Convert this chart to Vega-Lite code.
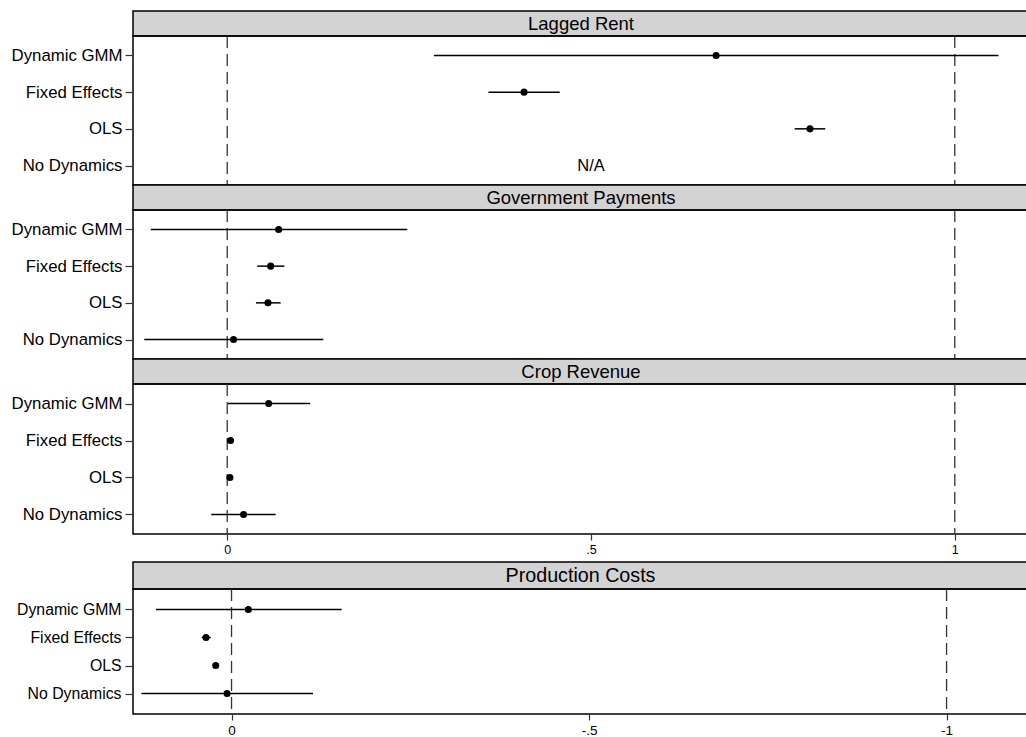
{
  "$schema": "https://vega.github.io/schema/vega-lite/v6.json",
  "padding": {"left": 10, "top": 10, "right": 0, "bottom": 0},
  "background": "white",
  "config": {
    "font": "Liberation Sans",
    "view": {"stroke": "black", "strokeWidth": 1.5},
    "concat": {"spacing": 0}
  },
  "datasets": {
    "est": [
      {"panel": "Lagged Rent", "model": "Dynamic GMM", "b": 0.672, "lo": 0.284, "hi": 1.06},
      {"panel": "Lagged Rent", "model": "Fixed Effects", "b": 0.408, "lo": 0.359, "hi": 0.457},
      {"panel": "Lagged Rent", "model": "OLS", "b": 0.801, "lo": 0.78, "hi": 0.822},
      {"panel": "Government Payments", "model": "Dynamic GMM", "b": 0.0707, "lo": -0.105, "hi": 0.2475},
      {"panel": "Government Payments", "model": "Fixed Effects", "b": 0.0597, "lo": 0.0413, "hi": 0.0785},
      {"panel": "Government Payments", "model": "OLS", "b": 0.056, "lo": 0.0395, "hi": 0.0734},
      {"panel": "Government Payments", "model": "No Dynamics", "b": 0.0087, "lo": -0.114, "hi": 0.132},
      {"panel": "Crop Revenue", "model": "Dynamic GMM", "b": 0.057, "lo": 0.001, "hi": 0.114},
      {"panel": "Crop Revenue", "model": "Fixed Effects", "b": 0.0046, "lo": 0.002, "hi": 0.007},
      {"panel": "Crop Revenue", "model": "OLS", "b": 0.0037, "lo": 0.0015, "hi": 0.006},
      {"panel": "Crop Revenue", "model": "No Dynamics", "b": 0.0225, "lo": -0.022, "hi": 0.0666},
      {"panel": "Production Costs", "model": "Dynamic GMM", "b": -0.0235, "lo": 0.1056, "hi": -0.154},
      {"panel": "Production Costs", "model": "Fixed Effects", "b": 0.0357, "lo": 0.0417, "hi": 0.029},
      {"panel": "Production Costs", "model": "OLS", "b": 0.0221, "lo": 0.025, "hi": 0.019},
      {"panel": "Production Costs", "model": "No Dynamics", "b": 0.0063, "lo": 0.126, "hi": -0.114}
    ],
    "notes": [
      {"panel": "Lagged Rent", "model": "No Dynamics", "note": "N/A", "at": 0.5}
    ],
    "refsTop": [{"ref": 0}, {"ref": 1}],
    "refsBottom": [{"ref": 0}, {"ref": -1}]
  },
  "vconcat": [
    {
      "spacing": 0,
      "bounds": "flush",
      "vconcat": [
        {
          "width": 896, "height": 25,
          "data": {"values": [{"t": "Lagged Rent"}]},
          "mark": {"type": "text", "fontSize": 18.5, "color": "black", "baseline": "middle"},
          "encoding": {"text": {"field": "t"}},
          "view": {"fill": "#d3d3d3", "stroke": "black", "strokeWidth": 1.5}
        },
        {
          "width": 896, "height": 149,
          "layer": [
            {
              "data": {"name": "refsTop"},
              "mark": {"type": "rule", "color": "#333333", "strokeDash": [12, 6], "strokeWidth": 1.3},
              "encoding": {"x": {"field": "ref", "type": "quantitative", "scale": {"domain": [-0.1295, 1.102], "nice": false, "zero": false}, "axis": null}}
            },
            {
              "data": {"name": "est"},
              "transform": [{"filter": "datum.panel == 'Lagged Rent'"}],
              "mark": {"type": "rule", "color": "black", "strokeWidth": 1.5},
              "encoding": {
                "y": {"field": "model", "type": "nominal", "sort": ["Dynamic GMM", "Fixed Effects", "OLS", "No Dynamics"], "scale": {"domain": ["Dynamic GMM", "Fixed Effects", "OLS", "No Dynamics"], "type": "point", "padding": 0.53}, "axis": {"title": null, "labelFontSize": 16.8, "labelColor": "black", "tickSize": 8, "tickColor": "#333333", "tickWidth": 1.2, "labelPadding": 3, "domain": false, "grid": false}},
                "x": {"field": "lo", "type": "quantitative"},
                "x2": {"field": "hi"}
              }
            },
            {
              "data": {"name": "est"},
              "transform": [{"filter": "datum.panel == 'Lagged Rent'"}],
              "mark": {"type": "circle", "color": "black", "size": 50, "opacity": 1},
              "encoding": {
                "y": {"field": "model", "type": "nominal"},
                "x": {"field": "b", "type": "quantitative"}
              }
            },
            {
              "data": {"name": "notes"},
              "mark": {"type": "text", "fontSize": 16.5, "color": "black", "baseline": "middle"},
              "encoding": {
                "y": {"field": "model", "type": "nominal"},
                "x": {"field": "at", "type": "quantitative"},
                "text": {"field": "note"}
              }
            }
          ]
        },
        {
          "width": 896, "height": 25,
          "data": {"values": [{"t": "Government Payments"}]},
          "mark": {"type": "text", "fontSize": 18.5, "color": "black", "baseline": "middle"},
          "encoding": {"text": {"field": "t"}},
          "view": {"fill": "#d3d3d3", "stroke": "black", "strokeWidth": 1.5}
        },
        {
          "width": 896, "height": 149,
          "layer": [
            {
              "data": {"name": "refsTop"},
              "mark": {"type": "rule", "color": "#333333", "strokeDash": [12, 6], "strokeWidth": 1.3},
              "encoding": {"x": {"field": "ref", "type": "quantitative", "scale": {"domain": [-0.1295, 1.102], "nice": false, "zero": false}, "axis": null}}
            },
            {
              "data": {"name": "est"},
              "transform": [{"filter": "datum.panel == 'Government Payments'"}],
              "mark": {"type": "rule", "color": "black", "strokeWidth": 1.5},
              "encoding": {
                "y": {"field": "model", "type": "nominal", "scale": {"domain": ["Dynamic GMM", "Fixed Effects", "OLS", "No Dynamics"], "type": "point", "padding": 0.53}, "axis": {"title": null, "labelFontSize": 16.8, "labelColor": "black", "tickSize": 8, "tickColor": "#333333", "tickWidth": 1.2, "labelPadding": 3, "domain": false, "grid": false}},
                "x": {"field": "lo", "type": "quantitative"},
                "x2": {"field": "hi"}
              }
            },
            {
              "data": {"name": "est"},
              "transform": [{"filter": "datum.panel == 'Government Payments'"}],
              "mark": {"type": "circle", "color": "black", "size": 50, "opacity": 1},
              "encoding": {
                "y": {"field": "model", "type": "nominal"},
                "x": {"field": "b", "type": "quantitative"}
              }
            }
          ]
        },
        {
          "width": 896, "height": 25,
          "data": {"values": [{"t": "Crop Revenue"}]},
          "mark": {"type": "text", "fontSize": 18.5, "color": "black", "baseline": "middle"},
          "encoding": {"text": {"field": "t"}},
          "view": {"fill": "#d3d3d3", "stroke": "black", "strokeWidth": 1.5}
        },
        {
          "width": 896, "height": 150,
          "layer": [
            {
              "data": {"name": "refsTop"},
              "mark": {"type": "rule", "color": "#333333", "strokeDash": [12, 6], "strokeWidth": 1.3},
              "encoding": {"x": {"field": "ref", "type": "quantitative", "scale": {"domain": [-0.1295, 1.102], "nice": false, "zero": false}, "axis": {"title": null, "values": [0, 0.5, 1], "labelExpr": "(datum.value < 0 ? '-' : '') + replace(toString(abs(datum.value)), /^0\\./, '.')", "labelFontSize": 12.5, "labelColor": "black", "tickSize": 6, "tickColor": "#333333", "tickWidth": 1.2, "labelPadding": 3, "domain": false, "grid": false}}}
            },
            {
              "data": {"name": "est"},
              "transform": [{"filter": "datum.panel == 'Crop Revenue'"}],
              "mark": {"type": "rule", "color": "black", "strokeWidth": 1.5},
              "encoding": {
                "y": {"field": "model", "type": "nominal", "scale": {"domain": ["Dynamic GMM", "Fixed Effects", "OLS", "No Dynamics"], "type": "point", "padding": 0.53}, "axis": {"title": null, "labelFontSize": 16.8, "labelColor": "black", "tickSize": 8, "tickColor": "#333333", "tickWidth": 1.2, "labelPadding": 3, "domain": false, "grid": false}},
                "x": {"field": "lo", "type": "quantitative"},
                "x2": {"field": "hi"}
              }
            },
            {
              "data": {"name": "est"},
              "transform": [{"filter": "datum.panel == 'Crop Revenue'"}],
              "mark": {"type": "circle", "color": "black", "size": 50, "opacity": 1},
              "encoding": {
                "y": {"field": "model", "type": "nominal"},
                "x": {"field": "b", "type": "quantitative"}
              }
            }
          ]
        }
      ]
    },
    {
      "spacing": 0,
      "bounds": "flush",
      "vconcat": [
        {
          "width": 895, "height": 27,
          "data": {"values": [{"t": "Production Costs"}]},
          "mark": {"type": "text", "fontSize": 19.7, "color": "black", "baseline": "middle"},
          "encoding": {"text": {"field": "t"}},
          "view": {"fill": "#d3d3d3", "stroke": "black", "strokeWidth": 1.5}
        },
        {
          "width": 895, "height": 125,
          "layer": [
            {
              "data": {"name": "refsBottom"},
              "mark": {"type": "rule", "color": "#333333", "strokeDash": [12, 6], "strokeWidth": 1.3},
              "encoding": {"x": {"field": "ref", "type": "quantitative", "scale": {"domain": [-1.1139, 0.1378], "reverse": true, "nice": false, "zero": false}, "axis": {"title": null, "values": [0, -0.5, -1], "labelExpr": "(datum.value < 0 ? '-' : '') + replace(toString(abs(datum.value)), /^0\\./, '.')", "labelFontSize": 13.5, "labelColor": "black", "tickSize": 6, "tickColor": "#333333", "tickWidth": 1.2, "labelPadding": 3, "domain": false, "grid": false}}}
            },
            {
              "data": {"name": "est"},
              "transform": [{"filter": "datum.panel == 'Production Costs'"}],
              "mark": {"type": "rule", "color": "black", "strokeWidth": 1.5},
              "encoding": {
                "y": {"field": "model", "type": "nominal", "scale": {"domain": ["Dynamic GMM", "Fixed Effects", "OLS", "No Dynamics"], "type": "point", "padding": 0.73}, "axis": {"title": null, "labelFontSize": 15.8, "labelColor": "black", "tickSize": 8, "tickColor": "#333333", "tickWidth": 1.2, "labelPadding": 4, "domain": false, "grid": false}},
                "x": {"field": "lo", "type": "quantitative"},
                "x2": {"field": "hi"}
              }
            },
            {
              "data": {"name": "est"},
              "transform": [{"filter": "datum.panel == 'Production Costs'"}],
              "mark": {"type": "circle", "color": "black", "size": 50, "opacity": 1},
              "encoding": {
                "y": {"field": "model", "type": "nominal"},
                "x": {"field": "b", "type": "quantitative"}
              }
            }
          ]
        }
      ]
    }
  ],
  "spacing": 4
}
